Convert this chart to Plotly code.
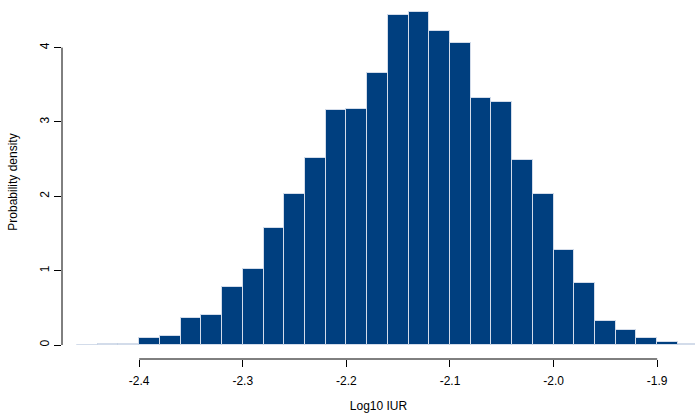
import plotly.graph_objects as go

bin_left = [-2.46, -2.44, -2.42, -2.40, -2.38, -2.36, -2.34, -2.32, -2.30, -2.28,
            -2.26, -2.24, -2.22, -2.20, -2.18, -2.16, -2.14, -2.12, -2.10, -2.08,
            -2.06, -2.04, -2.02, -2.00, -1.98, -1.96, -1.94, -1.92, -1.90, -1.88]
bin_width = 0.02
density = [0.005, 0.02, 0.02, 0.10, 0.12, 0.36, 0.41, 0.78, 1.02, 1.57,
           2.03, 2.51, 3.16, 3.17, 3.66, 4.44, 4.48, 4.22, 4.06, 3.32,
           3.27, 2.49, 2.03, 1.28, 0.84, 0.32, 0.20, 0.10, 0.035, 0.01]
x_ticks = [-2.4, -2.3, -2.2, -2.1, -2.0, -1.9]
x_tick_labels = ["-2.4", "-2.3", "-2.2", "-2.1", "-2.0", "-1.9"]
y_ticks = [0, 1, 2, 3, 4]

centers = [b + bin_width / 2 for b in bin_left]

fig = go.Figure()
fig.add_trace(go.Bar(
    x=centers, y=density, width=[bin_width] * len(centers),
    marker=dict(color="#003f7f", line=dict(color="#d3dcea", width=1)),
    hoverinfo="x+y",
))

font = dict(family="Liberation Sans, Arial, sans-serif", size=12, color="#000000")

fig.update_layout(
    width=695, height=418,
    margin=dict(l=62, r=0, t=5, b=59),
    paper_bgcolor="white", plot_bgcolor="white",
    showlegend=False,
    font=font,
    bargap=0,
    xaxis=dict(
        range=[-2.4745, -1.8635],
        tickvals=x_ticks, ticktext=x_tick_labels,
        ticks="outside", ticklen=7, tickcolor="#000", tickwidth=1,
        ticklabelstandoff=4,
        showline=False, showgrid=False, zeroline=False,
        title=dict(text="Log10 IUR", standoff=14, font=font),
        tickfont=font, automargin=False,
    ),
    yaxis=dict(
        range=[-0.1883, 4.573],
        tickvals=y_ticks,
        ticks="outside", ticklen=7, tickcolor="#000", tickwidth=1,
        tickangle=-90,
        showline=False, showgrid=False, zeroline=False,
        title=dict(text="Probability density", standoff=18, font=font),
        tickfont=font, automargin=False,
    ),
)

# R-style axis lines spanning only the tick range
fig.add_shape(type="line", xref="x", yref="paper",
              x0=x_ticks[0], x1=x_ticks[-1], y0=0, y1=0,
              line=dict(color="#000", width=1))
fig.add_shape(type="line", xref="paper", yref="y",
              x0=0, x1=0, y0=y_ticks[0], y1=y_ticks[-1],
              line=dict(color="#000", width=1))

fig.write_html("out.html",
               config={"displayModeBar": False},
               post_script="document.body.style.margin='0';document.body.style.padding='0';")
